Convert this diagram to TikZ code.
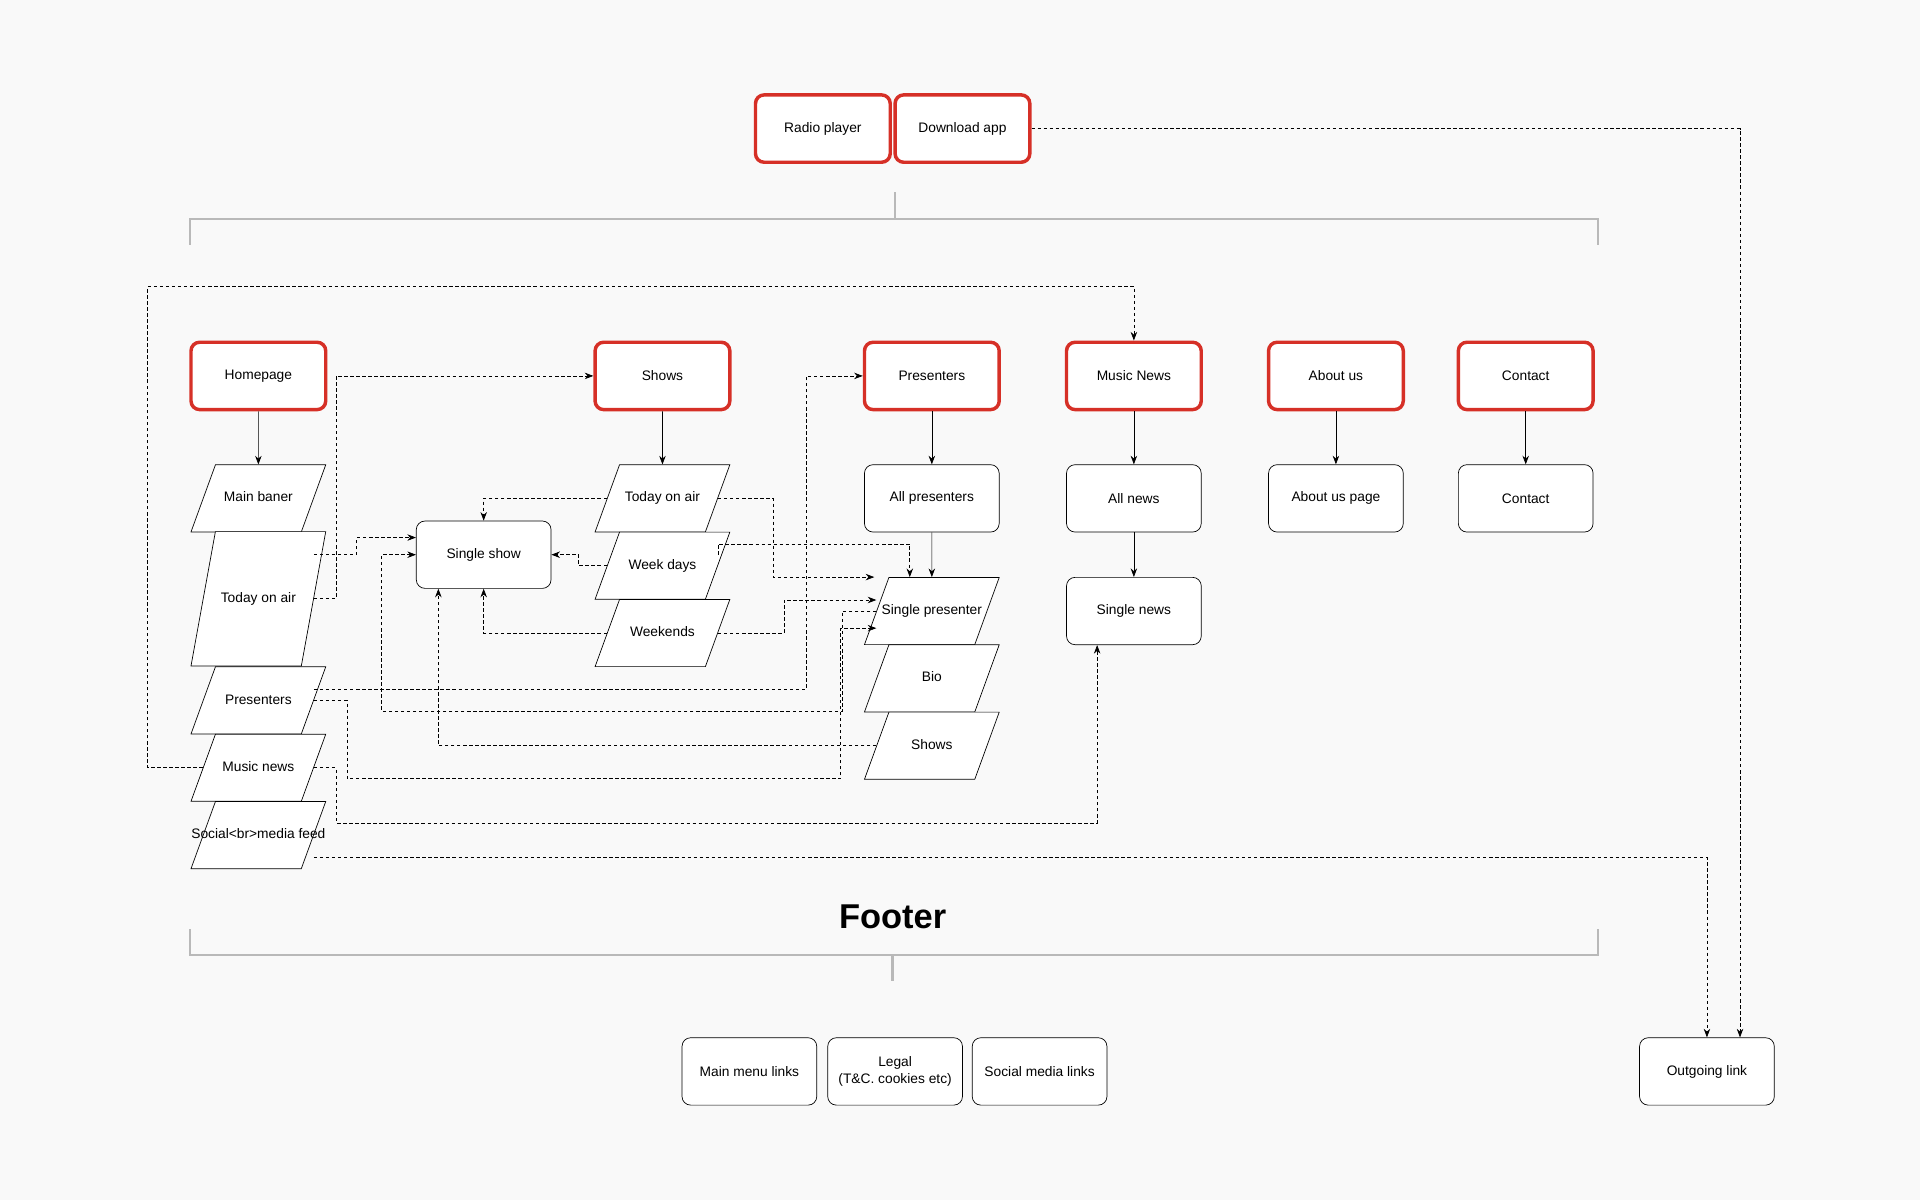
\documentclass[tikz,border=0pt]{standalone}
\usepackage{fontspec}
\setmainfont{Liberation Sans}
\usetikzlibrary{shapes.geometric, arrows.meta, positioning}
\definecolor{sitered}{RGB}{214,48,39}
\definecolor{pagebg}{RGB}{249,249,249}
\definecolor{bracketgrey}{RGB}{185,185,185}

\begin{document}
\begin{tikzpicture}[x=0.025cm, y=-0.025cm,
    box/.style={rectangle, rounded corners=5pt, draw, fill=white, minimum width=2.75cm, minimum height=1.375cm, align=center, font=\fontsize{8}{9.5}\selectfont},
    redbox/.style={box, draw=sitered, line width=2pt},
    slant/.style={trapezium, trapezium left angle=70, trapezium right angle=110, trapezium stretches body, draw, fill=white, minimum width=2.75cm, text height=6pt, text depth=1.8pt, inner xsep=0pt, inner ysep=15.6pt, font=\fontsize{8}{9.5}\selectfont},
    arrow/.style={-{Stealth[length=5pt]}},
    link/.style={-{Stealth[length=5pt]}, dash pattern=on 2pt off 1.5pt},
    bracket/.style={draw=bracketgrey, line width=1.5pt}
]
\fill[pagebg] (0,0) rectangle (1568,980);
\useasboundingbox (0,0) rectangle (1568,980);

% top bar
\node[redbox] (radio) at (672,105) {Radio player};
\node[redbox] (dlapp) at (786,105) {Download app};
\draw[bracket] (731,157) -- (731,179);
\draw[bracket] (155,200) -- (155,179) -- (1305,179) -- (1305,200);

% main menu
\node[redbox] (home) at (211,307) {Homepage};
\node[redbox] (shows) at (541,307) {Shows};
\node[redbox] (presenters) at (761,307) {Presenters};
\node[redbox] (mnews) at (926,307) {Music News};
\node[redbox] (about) at (1091,307) {About us};
\node[redbox] (contact) at (1246,307) {Contact};

% homepage blocks
\node[slant] (mban) at (211,407) {Main baner};
\node[slant, inner ysep=35.1pt, trapezium left angle=79.7, trapezium right angle=100.3] (htoa) at (211,489) {Today on air};
\node[slant] (hpres) at (211,572) {Presenters};
\node[slant] (hmnews) at (211,627) {Music news};
\node[slant] (hsocial) at (211,682) {\makebox[1.5cm][c]{Social<br>media feed}};

% shows
\node[slant] (stoa) at (541,407) {Today on air};
\node[slant] (wdays) at (541,462) {Week days};
\node[slant] (wends) at (541,517) {Weekends};
\node[box] (sshow) at (395,453) {Single show};

% presenters
\node[box] (allpres) at (761,407) {All presenters};
\node[slant] (spres) at (761,499) {\makebox[1.5cm][c]{Single presenter}};
\node[slant] (bio) at (761,554) {Bio};
\node[slant] (pshows) at (761,609) {Shows};

% news, about, contact
\node[box] (allnews) at (926,407) {All news};
\node[box] (snews) at (926,499) {Single news};
\node[box] (aboutpg) at (1091,407) {About us page};
\node[box] (contactpg) at (1246,407) {Contact};

% footer
\node[font=\fontsize{20}{22}\selectfont\bfseries] (footer) at (729,749) {Footer};
\draw[bracket] (155,759) -- (155,780) -- (1305,780) -- (1305,759);
\draw[bracket] (729,780) -- (729,801);
\node[box] (menulinks) at (612,875) {Main menu links};
\node[box] (legal) at (731,875) {Legal\\(T\&C. cookies etc)};
\node[box] (sociallinks) at (849,875) {Social media links};
\node[box] (outlink) at (1394,875) {Outgoing link};

% solid arrows
\draw[arrow] (home) -- (mban);
\draw[arrow] (shows) -- (stoa);
\draw[arrow] (presenters) -- (allpres);
\draw[arrow] (allpres) -- (spres);
\draw[arrow] (mnews) -- (allnews);
\draw[arrow] (allnews) -- (snews);
\draw[arrow] (about) -- (aboutpg);
\draw[arrow] (contact) -- (contactpg);

% dashed links
\draw[link] (dlapp.east) -| ([xshift=0.675cm]outlink.north);
\draw[link] (hmnews.west) -- ++(-45,0) -- ++(0,-393) -| (mnews.north);
\draw[link] (htoa.east) -- ++(18,0) |- (shows.west);
\draw[link] ([yshift=0.9cm]htoa.east) -- ++(35,0) |- ([yshift=0.35cm]sshow.west);
\draw[link] (spres.west) -- ++(-28,0) -- ++(0,82) -| ([xshift=-0.7cm]sshow.west) -- (sshow.west);
\draw[link] (pshows.west) -| ([xshift=-0.925cm]sshow.south);
\draw[link] ([yshift=0.225cm]hpres.east) -| ([xshift=-1.15cm]presenters.west) -- (presenters.west);
\draw[link] (hpres.east) -- ++(27,0) -- ++(0,64) -| ([xshift=-0.725cm,yshift=-0.35cm]spres.west) -- ([yshift=-0.35cm]spres.west);
\draw[link] (hmnews.east) -- ++(18,0) -- ++(0,45) -| ([xshift=-0.75cm]snews.south);
\draw[link] ([yshift=-0.45cm]hsocial.east) -| (outlink.north);
\draw[link] (stoa.west) -| (sshow.north);
\draw[link] (wdays.west) -- ++(-23,0) |- (sshow.east);
\draw[link] (wends.west) -| (sshow.south);
\draw[link] (stoa.east) -- ++(45,0) |- ([xshift=-1.175cm]spres.north);
\draw[link] ([yshift=0.225cm]wdays.east) |- ([xshift=-0.45cm,yshift=0.675cm]spres.north) -- ([xshift=-0.45cm]spres.north);
\draw[link] (wends.east) -- ++(54,0) |- ([yshift=0.225cm]spres.west);

\end{tikzpicture}
\end{document}
